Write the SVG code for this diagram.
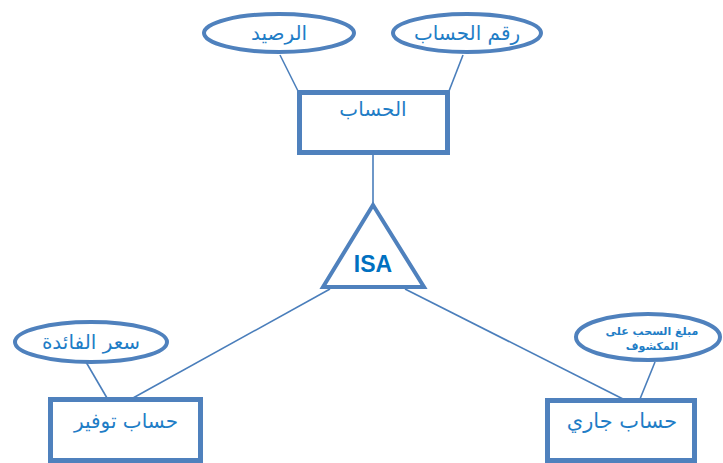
<svg xmlns="http://www.w3.org/2000/svg" width="723" height="463" viewBox="0 0 723 463">
  <style>
    .ent { fill: #ffffff; stroke: #4F81BD; stroke-width: 5; }
    .att { fill: #ffffff; stroke: #4F81BD; stroke-width: 4; }
    .isa { fill: #ffffff; stroke: #4F81BD; stroke-width: 4; stroke-linejoin: miter; }
    .link { stroke: #4A7EBB; stroke-width: 1.6; fill: none; }
    .lbl { font-family: "DejaVu Sans", "Noto Sans", sans-serif; fill: #1F7DC6; text-anchor: middle; direction: rtl; }
    .isaTxt { font-family: "Liberation Sans", Arial, sans-serif; font-weight: bold; font-size: 23px; fill: #0070C0; text-anchor: middle; }
  </style>
  <rect width="723" height="463" fill="#ffffff"/>

  <g id="connectors">
    <line class="link" x1="280" y1="55" x2="298" y2="91"/>
    <line class="link" x1="463" y1="55" x2="449" y2="91"/>
    <line class="link" x1="373" y1="155" x2="373" y2="205"/>
    <line class="link" x1="330" y1="289" x2="133" y2="398"/>
    <line class="link" x1="405" y1="289" x2="623" y2="399"/>
    <line class="link" x1="86" y1="362" x2="107" y2="398"/>
    <line class="link" x1="655" y1="362" x2="640" y2="399"/>
  </g>

  <g id="attr-balance">
    <ellipse class="att" cx="279" cy="33" rx="75" ry="19"/>
    <text class="lbl" x="279" y="40" font-size="20">الرصيد</text>
  </g>

  <g id="attr-account-number">
    <ellipse class="att" cx="467" cy="33" rx="74" ry="19"/>
    <text class="lbl" x="467" y="40" font-size="20">رقم الحساب</text>
  </g>

  <g id="account">
    <rect class="ent" x="299.5" y="92.5" width="148" height="60"/>
    <text class="lbl" x="373" y="116" font-size="20">الحساب</text>
  </g>

  <g id="isa">
    <polygon class="isa" points="373,205 323,287 424,287"/>
    <text class="isaTxt" x="373" y="272">ISA</text>
  </g>

  <g id="attr-interest-rate">
    <ellipse class="att" cx="91" cy="342" rx="76" ry="20"/>
    <text class="lbl" x="91" y="349" font-size="20">سعر الفائدة</text>
  </g>

  <g id="savings-account">
    <rect class="ent" x="50.5" y="399.5" width="150" height="61"/>
    <text class="lbl" x="126" y="428" font-size="20">حساب توفير</text>
  </g>

  <g id="attr-overdraft">
    <ellipse class="att" cx="648" cy="337" rx="72" ry="23"/>
    <text class="lbl" x="652" y="335" font-size="11" font-weight="bold">مبلغ السحب على</text>
    <text class="lbl" x="652" y="350" font-size="11" font-weight="bold">المكشوف</text>
  </g>

  <g id="current-account">
    <rect class="ent" x="547.5" y="400.5" width="147" height="60"/>
    <text class="lbl" x="622" y="428" font-size="21">حساب جاري</text>
  </g>
</svg>
